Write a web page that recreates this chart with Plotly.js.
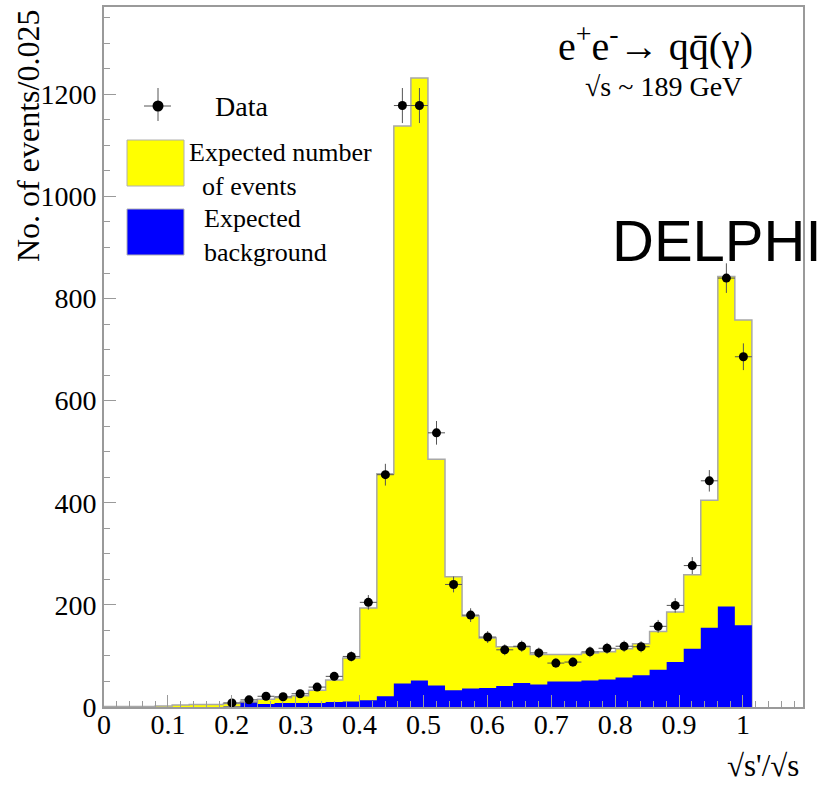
<!DOCTYPE html>
<html><head><meta charset="utf-8">
<script src="https://cdn.plot.ly/plotly-3.0.1.min.js"></script>
<style>html,body{margin:0;padding:0;background:#fff;}#chart{width:833px;height:785px;}</style>
</head><body><div id="chart"></div>
<script>
// Histogram bin edges (in axis units of sqrt(s')/sqrt(s))
const binEdges = [0, 0.0267, 0.0534, 0.0801, 0.1067, 0.1334, 0.1601, 0.1868, 0.2135, 0.2402,
  0.2669, 0.2935, 0.3202, 0.3469, 0.3736, 0.4003, 0.4270, 0.4536, 0.4803, 0.5070,
  0.5337, 0.5604, 0.5871, 0.6138, 0.6404, 0.6671, 0.6938, 0.7205, 0.7472, 0.7739,
  0.8006, 0.8272, 0.8539, 0.8806, 0.9073, 0.9340, 0.9607, 0.9873, 1.0140];
// Expected number of events per bin (yellow)
const expectedEvents = [1, 1, 1, 2, 4, 5, 5, 7, 11, 15,
  18, 22, 33, 53, 96, 194, 457, 1138, 1232, 485,
  255, 178, 135, 118, 118, 103, 103, 103, 106, 108,
  114, 124, 148, 186, 259, 405, 843, 758];
// Expected background per bin (blue)
const expectedBackground = [0, 0, 0, 0, 0, 0, 0, 1, 9, 6,
  8, 8, 8, 10, 11, 13, 21, 46, 52, 42,
  33, 36, 37, 41, 47, 44, 50, 50, 52, 54,
  58, 62, 73, 88, 114, 155, 197, 160];
// Data points (bin centres and counts)
const dataX = [0.2002, 0.2269, 0.2536, 0.2803, 0.3069, 0.3336, 0.3603, 0.3870, 0.4137, 0.4404,
  0.4670, 0.4937, 0.5204, 0.5471, 0.5738, 0.6005, 0.6272, 0.6538, 0.6805, 0.7072,
  0.7339, 0.7606, 0.7873, 0.8140, 0.8406, 0.8673, 0.8940, 0.9207, 0.9474, 0.9741, 1.0007];
const dataY = [8, 14, 21, 20, 26, 39, 60, 99, 205, 455,
  1178, 1178, 537, 240, 180, 137, 112, 119, 106, 86,
  88, 108, 115, 119, 118, 158, 199, 277, 443, 840, 686];
const xTickVals = [0, 0.1, 0.2, 0.3, 0.4, 0.5, 0.6, 0.7, 0.8, 0.9, 1];
const xTickText = ['0', '0.1', '0.2', '0.3', '0.4', '0.5', '0.6', '0.7', '0.8', '0.9', '1'];
const yTickVals = [0, 200, 400, 600, 800, 1000, 1200];
const yTickText = ['0', '200', '400', '600', '800', '1000', '1200'];

const M = {l: 104, r: 30, t: 7, b: 78};
const FW = 833, FH = 785;
const W = FW - M.l - M.r, H = FH - M.t - M.b;
const px = v => (v - M.l) / W;
const py = v => (FH - M.b - v) / H;

const serif = 'Liberation Serif, Times New Roman, serif';
const axisGray = '#9a9a9a';

const yellowTrace = {
  x: binEdges, y: expectedEvents.concat([0]),
  type: 'scatter', mode: 'lines', line: {shape: 'hv', color: '#a8a8a8', width: 1.5},
  fill: 'tozeroy', fillcolor: '#ffff00', hoverinfo: 'skip'
};
const blueTrace = {
  x: binEdges, y: expectedBackground.concat([0]),
  type: 'scatter', mode: 'lines', line: {shape: 'hv', color: 'rgba(0,0,255,0)', width: 0},
  fill: 'tozeroy', fillcolor: '#0000ff', hoverinfo: 'skip'
};
const dataTrace = {
  x: dataX, y: dataY, type: 'scatter', mode: 'markers',
  marker: {color: '#000', size: 9},
  error_y: {type: 'sqrt', color: '#555', thickness: 1, width: 0},
  error_x: {type: 'constant', value: 0.0133, color: '#555', thickness: 1, width: 0},
  hoverinfo: 'skip', cliponaxis: false
};

function ann(text, x, y, size, opts) {
  return Object.assign({
    text: text, xref: 'paper', yref: 'paper', x: px(x), y: py(y),
    xanchor: 'center', yanchor: 'middle', showarrow: false,
    font: {family: serif, size: size, color: '#000'}
  }, opts || {});
}

const annotations = [
  ann('No. of events/0.025', 28, 136, 32, {textangle: -90}),
  ann('Data', 213, 106, 28, {xanchor: 'left'}),
  ann('Expected number<br>&nbsp;&nbsp;of events', 187, 169, 26, {xanchor: 'left', align: 'left'}),
  ann('&nbsp;&nbsp;Expected<br>&nbsp;&nbsp;background', 189, 235, 26, {xanchor: 'left', align: 'left'}),
  ann('e<sup>+</sup>e<sup>-</sup>\u2192 qq\u0304(\u03b3)', 655, 44, 40),
  ann('\u221as ~ 189 GeV', 663, 86, 28),
  ann('DELPHI', 717, 240, 58, {font: {family: 'Liberation Sans, Arial, sans-serif', size: 58, color: '#000'}}),
  ann('\u221as\'/\u221as', 763, 785, 31, {yanchor: 'bottom'})
];

const shapes = [
  {type: 'line', xref: 'paper', yref: 'paper', x0: px(144), x1: px(171), y0: py(106), y1: py(106), line: {color: '#555', width: 1}},
  {type: 'line', xref: 'paper', yref: 'paper', x0: px(158), x1: px(158), y0: py(88), y1: py(121), line: {color: '#555', width: 1}},
  {type: 'circle', xref: 'paper', yref: 'paper', x0: px(152.5), x1: px(163.5), y0: py(100.5), y1: py(111.5), fillcolor: '#000', line: {color: '#000', width: 0}},
  {type: 'rect', xref: 'paper', yref: 'paper', x0: px(127), x1: px(184), y0: py(140), y1: py(186), fillcolor: '#ffff00', line: {color: '#b0b0b0', width: 1}},
  {type: 'rect', xref: 'paper', yref: 'paper', x0: px(127), x1: px(184), y0: py(209), y1: py(255), fillcolor: '#0000ff', line: {color: '#b0b0b0', width: 1}}
];

const layout = {
  width: FW, height: FH,
  margin: M,
  paper_bgcolor: '#fff', plot_bgcolor: '#fff',
  showlegend: false,
  xaxis: {
    range: [0, 1.094], showgrid: false, zeroline: false,
    showline: true, linecolor: axisGray, linewidth: 2, mirror: true,
    ticks: 'inside', ticklen: 12, tickwidth: 1, tickcolor: axisGray,
    tickmode: 'array', tickvals: xTickVals, ticktext: xTickText,
    tickfont: {family: serif, size: 28, color: '#000'},
    ticklabelstandoff: -9,
    minor: {ticks: 'inside', dtick: 0.02, tick0: 0, ticklen: 6, tickwidth: 1, tickcolor: axisGray, showgrid: false}
  },
  yaxis: {
    range: [0, 1371], showgrid: false, zeroline: false,
    showline: true, linecolor: axisGray, linewidth: 2, mirror: true,
    ticks: 'inside', ticklen: 12, tickwidth: 1, tickcolor: axisGray,
    tickmode: 'array', tickvals: yTickVals, ticktext: yTickText,
    tickfont: {family: serif, size: 28, color: '#000'},
    minor: {ticks: 'inside', dtick: 50, tick0: 0, ticklen: 6, tickwidth: 1, tickcolor: axisGray, showgrid: false}
  },
  annotations: annotations,
  shapes: shapes
};

Plotly.newPlot('chart', [yellowTrace, blueTrace, dataTrace], layout, {displayModeBar: false, staticPlot: true});
</script>
</body></html>
